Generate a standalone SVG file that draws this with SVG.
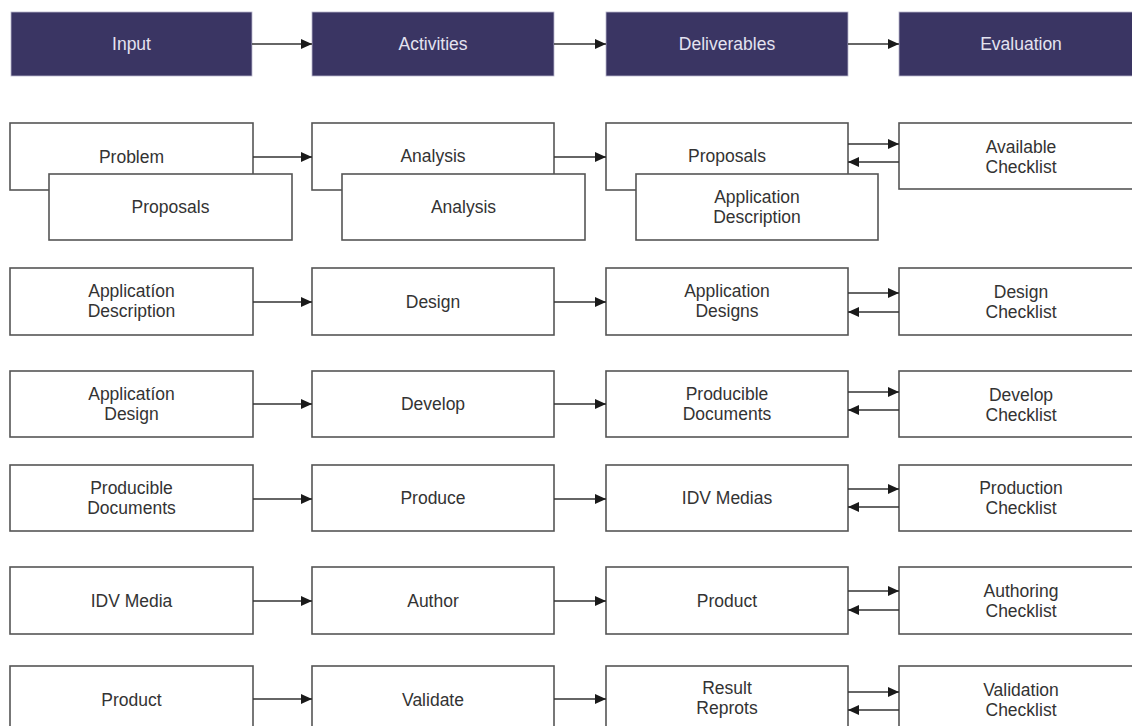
<svg xmlns="http://www.w3.org/2000/svg" width="1132" height="726" viewBox="0 0 1132 726">
  <defs>
    <marker id="arrow" markerUnits="userSpaceOnUse" markerWidth="11" markerHeight="10" refX="11" refY="5" orient="auto">
      <path d="M0,0 L11,5 L0,10 z" fill="#1a1a1a"/>
    </marker>
    <style>
      .hdr rect { fill: #3a3563; stroke: #b8b6cc; stroke-width: 0.8; }
      .hdr text { fill: #e4e3f0; }
      .box rect { fill: #ffffff; stroke: #555555; stroke-width: 1.6; }
      text { font-family: "Liberation Sans", Arial, sans-serif; font-size: 17.5px; text-anchor: middle; fill: #333333; }
      .conn line { stroke: #333333; stroke-width: 1.5; marker-end: url(#arrow); }
    </style>
  </defs>
  <rect width="1132" height="726" fill="#ffffff"/>

  <!-- column headers -->
  <g id="hdr-input" class="hdr"><rect x="11" y="12" width="241" height="64"/><text x="131.5" y="50">Input</text></g>
  <g id="hdr-activities" class="hdr"><rect x="312" y="12" width="242" height="64"/><text x="433" y="50">Activities</text></g>
  <g id="hdr-deliverables" class="hdr"><rect x="606" y="12" width="242" height="64"/><text x="727" y="50">Deliverables</text></g>
  <g id="hdr-evaluation" class="hdr"><rect x="899" y="12" width="245" height="64"/><text x="1021" y="50">Evaluation</text></g>

  <!-- row 1 -->
  <g id="in-problem" class="box"><rect x="10" y="123" width="243" height="67"/><text x="131.5" y="163">Problem</text></g>
  <g id="in-proposals" class="box"><rect x="49" y="174" width="243" height="66"/><text x="170.5" y="213">Proposals</text></g>
  <g id="act-analysis" class="box"><rect x="312" y="123" width="242" height="67"/><text x="433" y="162">Analysis</text></g>
  <g id="act-analysis-2" class="box"><rect x="342" y="174" width="243" height="66"/><text x="463.5" y="213">Analysis</text></g>
  <g id="del-proposals" class="box"><rect x="606" y="123" width="242" height="67"/><text x="727" y="162">Proposals</text></g>
  <g id="del-appdesc" class="box"><rect x="636" y="174" width="242" height="66"/><text x="757" y="203">Application</text><text x="757" y="223">Description</text></g>
  <g id="ev-available" class="box"><rect x="899" y="123" width="245" height="66"/><text x="1021" y="153">Available</text><text x="1021" y="173">Checklist</text></g>

  <!-- row 2 -->
  <g id="in-appdesc" class="box"><rect x="10" y="268" width="243" height="67"/><text x="131.5" y="297">Applicatíon</text><text x="131.5" y="317">Description</text></g>
  <g id="act-design" class="box"><rect x="312" y="268" width="242" height="67"/><text x="433" y="308">Design</text></g>
  <g id="del-appdesigns" class="box"><rect x="606" y="268" width="242" height="67"/><text x="727" y="297">Application</text><text x="727" y="317">Designs</text></g>
  <g id="ev-design" class="box"><rect x="899" y="268" width="245" height="67"/><text x="1021" y="298">Design</text><text x="1021" y="318">Checklist</text></g>

  <!-- row 3 -->
  <g id="in-appdesign" class="box"><rect x="10" y="371" width="243" height="66"/><text x="131.5" y="400">Applicatíon</text><text x="131.5" y="420">Design</text></g>
  <g id="act-develop" class="box"><rect x="312" y="371" width="242" height="66"/><text x="433" y="410">Develop</text></g>
  <g id="del-producible" class="box"><rect x="606" y="371" width="242" height="66"/><text x="727" y="400">Producible</text><text x="727" y="420">Documents</text></g>
  <g id="ev-develop" class="box"><rect x="899" y="371" width="245" height="66"/><text x="1021" y="401">Develop</text><text x="1021" y="421">Checklist</text></g>

  <!-- row 4 -->
  <g id="in-producible" class="box"><rect x="10" y="465" width="243" height="66"/><text x="131.5" y="494">Producible</text><text x="131.5" y="514">Documents</text></g>
  <g id="act-produce" class="box"><rect x="312" y="465" width="242" height="66"/><text x="433" y="504">Produce</text></g>
  <g id="del-idvmedias" class="box"><rect x="606" y="465" width="242" height="66"/><text x="727" y="504">IDV Medias</text></g>
  <g id="ev-production" class="box"><rect x="899" y="465" width="245" height="66"/><text x="1021" y="494">Production</text><text x="1021" y="514">Checklist</text></g>

  <!-- row 5 -->
  <g id="in-idvmedia" class="box"><rect x="10" y="567" width="243" height="67"/><text x="131.5" y="607">IDV Media</text></g>
  <g id="act-author" class="box"><rect x="312" y="567" width="242" height="67"/><text x="433" y="607">Author</text></g>
  <g id="del-product" class="box"><rect x="606" y="567" width="242" height="67"/><text x="727" y="607">Product</text></g>
  <g id="ev-authoring" class="box"><rect x="899" y="567" width="245" height="67"/><text x="1021" y="597">Authoring</text><text x="1021" y="617">Checklist</text></g>

  <!-- row 6 -->
  <g id="in-product" class="box"><rect x="10" y="666" width="243" height="67"/><text x="131.5" y="706">Product</text></g>
  <g id="act-validate" class="box"><rect x="312" y="666" width="242" height="67"/><text x="433" y="706">Validate</text></g>
  <g id="del-results" class="box"><rect x="606" y="666" width="242" height="67"/><text x="727" y="694">Result</text><text x="727" y="714">Reprots</text></g>
  <g id="ev-validation" class="box"><rect x="899" y="666" width="245" height="67"/><text x="1021" y="696">Validation</text><text x="1021" y="716">Checklist</text></g>

  <!-- connectors -->
  <g id="connectors" class="conn">
    <line x1="252" y1="44" x2="312" y2="44"/>
    <line x1="554" y1="44" x2="606" y2="44"/>
    <line x1="848" y1="44" x2="899" y2="44"/>

    <line x1="253" y1="157" x2="312" y2="157"/>
    <line x1="554" y1="157" x2="606" y2="157"/>
    <line x1="848" y1="144" x2="899" y2="144"/>
    <line x1="899" y1="162" x2="848" y2="162"/>

    <line x1="253" y1="302" x2="312" y2="302"/>
    <line x1="554" y1="302" x2="606" y2="302"/>
    <line x1="848" y1="293" x2="899" y2="293"/>
    <line x1="899" y1="312" x2="848" y2="312"/>

    <line x1="253" y1="404" x2="312" y2="404"/>
    <line x1="554" y1="404" x2="606" y2="404"/>
    <line x1="848" y1="392" x2="899" y2="392"/>
    <line x1="899" y1="410" x2="848" y2="410"/>

    <line x1="253" y1="499" x2="312" y2="499"/>
    <line x1="554" y1="499" x2="606" y2="499"/>
    <line x1="848" y1="489" x2="899" y2="489"/>
    <line x1="899" y1="507" x2="848" y2="507"/>

    <line x1="253" y1="601" x2="312" y2="601"/>
    <line x1="554" y1="601" x2="606" y2="601"/>
    <line x1="848" y1="591" x2="899" y2="591"/>
    <line x1="899" y1="610" x2="848" y2="610"/>

    <line x1="253" y1="699" x2="312" y2="699"/>
    <line x1="554" y1="699" x2="606" y2="699"/>
    <line x1="848" y1="692" x2="899" y2="692"/>
    <line x1="899" y1="710" x2="848" y2="710"/>
  </g>
</svg>
